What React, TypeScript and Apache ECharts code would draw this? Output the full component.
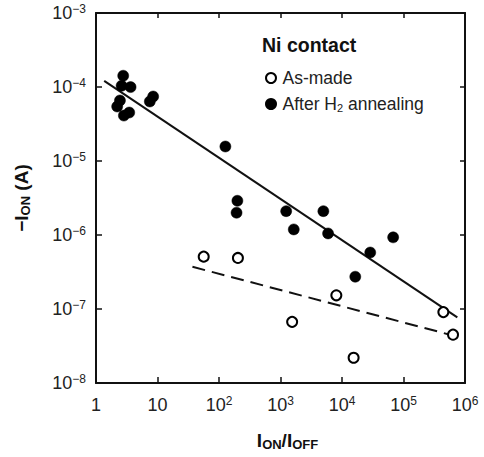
import React, { useEffect, useRef } from "react";
import * as echarts from "echarts";

// As-made devices (open circles)
const asMadeRatio = [56.4, 203, 1546, 8090, 15450, 444600, 638600];
const asMadeCurrent = [5.1e-7, 4.9e-7, 6.7e-8, 1.53e-7, 2.19e-8, 9.08e-8, 4.5e-8];

// After H2 annealing (filled circles)
const annealedRatio = [2.77, 2.61, 3.65, 2.45, 2.21, 2.84, 3.47, 7.5, 8.5, 127, 199, 193, 1237, 1644, 4977, 5935, 28770, 67900, 16440];
const annealedCurrent = [1.42e-4, 1.04e-4, 9.97e-5, 6.57e-5, 5.45e-5, 4.11e-5, 4.52e-5, 6.37e-5, 7.44e-5, 1.57e-5, 2.9e-6, 2.0e-6, 2.1e-6, 1.19e-6, 2.1e-6, 1.05e-6, 5.8e-7, 9.3e-7, 2.73e-7];

// Fit lines (end points)
const annealedFitRatio = [1.36, 750000];
const annealedFitCurrent = [1.21e-4, 7.7e-8];
const asMadeFitRatio = [37, 564000];
const asMadeFitCurrent = [3.72e-7, 4.5e-8];

// Axis ranges
const xRange = [1, 1e6];
const yRange = [1e-8, 1e-3];

const FONT = "'Liberation Sans', Arial, sans-serif";

const zip = (a: number[], b: number[]) => a.map((v, i) => [v, b[i]]);

const supRich = {
  b: { fontSize: 18, fontFamily: FONT, color: "#222", lineHeight: 20 },
  s: { fontSize: 12, fontFamily: FONT, color: "#222", lineHeight: 15, verticalAlign: "top" as const },
};

const subRichBold = {
  b: { fontSize: 19, fontWeight: "bold" as const, fontFamily: FONT, color: "#111", lineHeight: 22 },
  s: { fontSize: 13, fontWeight: "bold" as const, fontFamily: FONT, color: "#111", lineHeight: 14, verticalAlign: "bottom" as const },
};

export default function App() {
  const ref = useRef<HTMLDivElement>(null);
  useEffect(() => {
    if (!ref.current) return;
    const chart = echarts.init(ref.current, null, { renderer: "svg" });
    const axisLine = { show: true, lineStyle: { color: "#111", width: 2 } };
    const tick = { show: true, inside: true, length: 6, lineStyle: { color: "#111", width: 1.5 } };
    const option: any = {
      animation: false,
      backgroundColor: "#fff",
      grid: { left: 96, right: 19, top: 13, bottom: 74, containLabel: false },
      legend: {
        orient: "vertical",
        left: 260,
        top: 64,
        itemWidth: 13,
        itemHeight: 10,
        itemGap: 8,
        icon: "circle",
        data: ["As-made", "After H2 annealing"],
        formatter: (name: string) =>
          name === "After H2 annealing" ? "{t|After H}{s|2}{t| annealing}" : "{t|As-made}",
        textStyle: {
          rich: {
            t: { fontSize: 17.5, fontFamily: FONT, color: "#222", lineHeight: 19 },
            s: { fontSize: 11, fontFamily: FONT, color: "#222", lineHeight: 10, verticalAlign: "bottom" },
          },
        },
      },
      graphic: [
        {
          type: "text",
          left: 262,
          top: 35,
          style: { text: "Ni contact", fontSize: 19.5, fontWeight: "bold", fontFamily: FONT, fill: "#111" },
        },
      ],
      xAxis: [
        {
          type: "log",
          logBase: 10,
          min: xRange[0],
          max: xRange[1],
          position: "bottom",
          axisLine,
          axisTick: tick,
          splitLine: { show: false },
          minorTick: { show: false },
          axisLabel: {
            margin: 12,
            formatter: (v: number) => {
              const e = Math.round(Math.log10(v));
              if (e === 0) return "{b|1}";
              if (e === 1) return "{b|10}";
              return `{b|10}{s|${e}}`;
            },
            rich: supRich,
          },
          name: "{b|I}{s|ON}{b|/I}{s|OFF}",
          nameLocation: "middle",
          nameGap: 46,
          nameTextStyle: { rich: subRichBold, padding: [0, 0, 0, 14] },
        },
        {
          type: "log",
          logBase: 10,
          min: xRange[0],
          max: xRange[1],
          position: "top",
          axisLine,
          axisTick: { ...tick, length: 5 },
          axisLabel: { show: false },
          splitLine: { show: false },
        },
      ],
      yAxis: [
        {
          type: "log",
          logBase: 10,
          min: yRange[0],
          max: yRange[1],
          position: "left",
          axisLine,
          axisTick: tick,
          splitLine: { show: false },
          minorTick: { show: false },
          axisLabel: {
            margin: 10,
            verticalAlignMaxLabel: "top",
            formatter: (v: number) => {
              const e = Math.round(Math.log10(v));
              return `{b|10}{s|\u2212${-e}}`;
            },
            rich: supRich,
          },
          name: "{b|\u2212I}{s|ON}{b| (A)}",
          nameLocation: "middle",
          nameGap: 64,
          nameRotate: 90,
          nameTextStyle: { rich: subRichBold },
        },
        {
          type: "log",
          logBase: 10,
          min: yRange[0],
          max: yRange[1],
          position: "right",
          axisLine,
          axisTick: { ...tick, length: 5 },
          axisLabel: { show: false },
          splitLine: { show: false },
        },
      ],
      series: [
        {
          name: "annealed fit",
          type: "line",
          xAxisIndex: 0,
          yAxisIndex: 0,
          data: zip(annealedFitRatio, annealedFitCurrent),
          symbol: "none",
          lineStyle: { color: "#111", width: 2 },
          z: 2,
          silent: true,
        },
        {
          name: "as-made fit",
          type: "line",
          xAxisIndex: 0,
          yAxisIndex: 0,
          data: zip(asMadeFitRatio, asMadeFitCurrent),
          symbol: "none",
          lineStyle: { color: "#111", width: 2, type: [13, 7] },
          z: 2,
          silent: true,
        },
        {
          name: "After H2 annealing",
          type: "scatter",
          xAxisIndex: 0,
          yAxisIndex: 0,
          data: zip(annealedRatio, annealedCurrent),
          symbol: "circle",
          symbolSize: 11,
          itemStyle: { color: "#000", borderColor: "#000", borderWidth: 0.5, opacity: 1 },
          z: 3,
        },
        {
          name: "As-made",
          type: "scatter",
          xAxisIndex: 0,
          yAxisIndex: 0,
          data: zip(asMadeRatio, asMadeCurrent),
          symbol: "circle",
          symbolSize: 10,
          itemStyle: { color: "#fff", borderColor: "#000", borderWidth: 2, opacity: 1 },
          z: 3,
        },
      ],
    };
    chart.setOption(option);
    return () => chart.dispose();
  }, []);
  return (
    <div
      ref={ref}
      style={{ position: "fixed", left: 0, top: 0, width: 484, height: 457, background: "#fff" }}
    />
  );
}
